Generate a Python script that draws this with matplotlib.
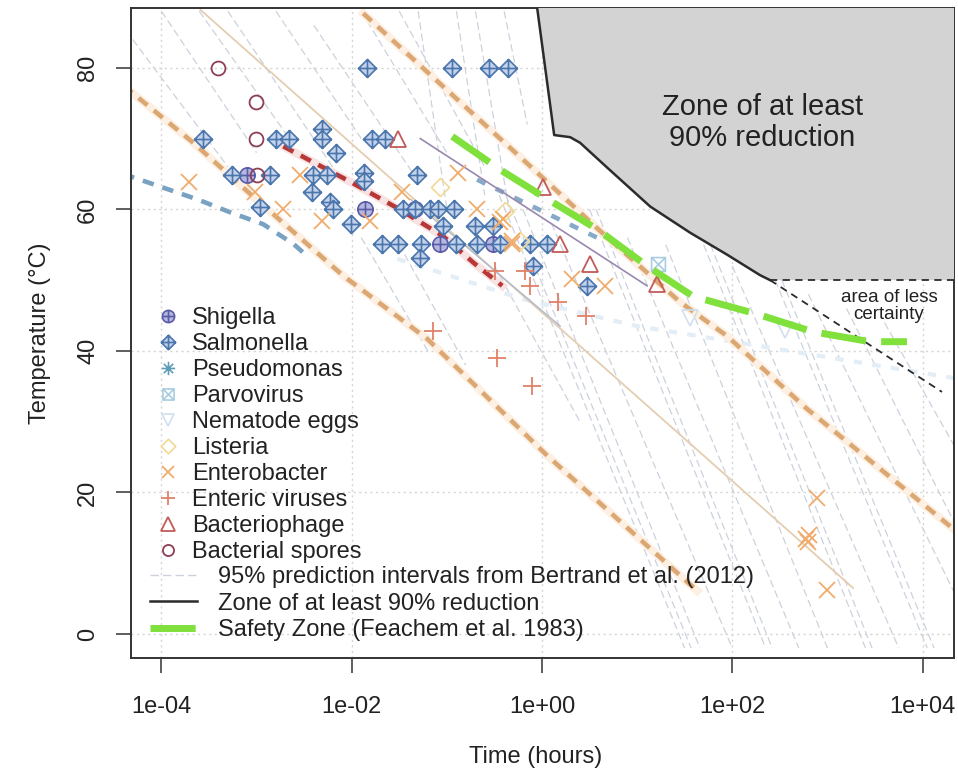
import matplotlib
matplotlib.use("Agg")
import matplotlib.pyplot as plt
from matplotlib.path import Path

plt.rcParams['font.family'] = ['Liberation Sans', 'DejaVu Sans']

# ---- observed inactivation points: time (hours) and temperature (C)
salmonella_t = [0.0146, 0.114, 0.279, 0.442,
                0.0049,
                2.76e-4, 1.61e-3, 2.21e-3, 4.91e-3, 0.0164, 0.0225,
                6.89e-3, 0.0135,
                5.57e-4, 1.40e-3, 3.95e-3, 5.55e-3, 0.0489,
                0.0135, 3.86e-3, 5.96e-3, 1.10e-3,
                6.41e-3, 0.0348, 0.0466, 0.067, 0.0813, 0.12,
                9.8e-3, 0.0916, 0.199, 0.307,
                0.0209, 0.0309, 0.0538, 0.126, 0.209, 0.364, 0.751, 1.135,
                0.0526, 0.81, 2.99]
salmonella_T = [80, 80, 80, 80,
                71.3,
                70, 70, 70, 70, 70, 70,
                68, 65.2,
                64.9, 64.9, 64.9, 64.9, 64.9,
                64, 62.4, 61.1, 60.3,
                60, 60, 60, 60, 60, 60,
                58, 57.6, 57.6, 57.6,
                55.1, 55.1, 55.1, 55.1, 55.1, 55.1, 55.1, 55.1,
                53.1, 52, 49.2]

shigella_t = [8.0e-4, 0.0139, 0.0466, 0.0853, 0.307]
shigella_T = [64.9, 60, 60, 55.1, 55.1]

pseudomonas_t = []
pseudomonas_T = []

parvovirus_t = [16.6]
parvovirus_T = [52.3]

nematode_t = [36.1, 359]
nematode_T = [44.7, 43.0]

listeria_t = [0.0853, 0.411, 0.59]
listeria_T = [63.1, 59.7, 55.5]

enterobacter_t = [1.97e-4, 9.7e-4, 1.91e-3, 4.91e-3, 2.88e-3, 0.0157, 0.034, 0.132,
                  0.209, 0.364, 0.391, 0.487, 0.48, 2.08, 4.61,
                  778, 600, 640, 620, 991]
enterobacter_T = [63.9, 62.4, 60, 58.3, 64.9, 58.3, 62.5, 65.2,
                  60, 58.2, 58.6, 55.1, 55.5, 50.1, 49.2,
                  19.2, 13.4, 14.0, 13.0, 6.2]

viruses_t = [0.0719, 0.338, 0.789, 0.322, 0.667, 0.751, 1.48, 2.91]
viruses_T = [42.8, 39.0, 35.1, 51.3, 51.3, 49.2, 46.9, 44.9]

phage_t = [0.0309, 1.03, 1.55, 3.2, 16.2]
phage_T = [70, 63.2, 55.1, 52.3, 49.4]

spores_t = [3.97e-4, 9.96e-4, 9.96e-4, 1.02e-3]
spores_T = [80, 75.1, 70, 64.9]

# ---- 95% prediction interval segments (t1, T1, t2, T2)
pi_segments = [
    (5.0e-5, 84, 5.0e-4, 66), (1e-4, 88, 1e-3, 68), (2.5e-4, 88, 2.5e-3, 69),
    (5e-4, 88, 6.3e-3, 66), (1.6e-3, 88, 0.0126, 70), (4e-3, 86, 0.05, 64),
    (0.0126, 88, 0.1, 68), (0.0316, 88, 0.25, 66),
    (0.05, 88, 0.1, 60), (0.126, 88, 0.25, 62), (0.2, 88, 0.45, 60), (0.4, 88, 0.7, 72),
    (0.0126, 56, 0.063, 40), (0.0316, 55, 0.158, 38), (0.316, 52, 2.5, 30),
    (0.355, 62, 31.6, -2), (0.417, 62, 37, -2), (0.63, 60, 45.7, -2), (1.26, 58, 100, -2),
    (3.16, 60, 224, -2), (3.7, 60, 263, -2), (7.9, 56, 500, -2), (20, 55, 1000, -2),
    (50, 55, 2512, -2), (59, 55, 2950, -2), (100, 52, 5620, -2), (282, 50, 11200, -2),
    (331, 50, 13200, -2), (631, 48, 25100, 4), (1585, 46, 25100, 14), (3980, 44, 25100, 25),
]

# ---- fitted / reference curves
orange_a_t = [0.0132, 0.752, 3.89, 28.3, 88.1, 611, 20840]
orange_a_T = [87.7, 66.1, 57.2, 46.9, 42.1, 31.8, 14.9]
orange_b_t = [3.98e-5, 2.17e-4, 7.62e-4, 8.17e-3, 0.0622, 1.135, 42.7]
orange_b_T = [77.5, 69.4, 62.8, 50.6, 41.7, 25.2, 6.1]
steel_t = [3.98e-5, 2.40e-4, 5.25e-4, 1.175e-3, 2.45e-3, 3.09e-3]
steel_T = [65.0, 61.4, 59.6, 57.9, 55.1, 53.9]
blue_mid_t = [0.208, 3.80]
blue_mid_T = [64.2, 56.0]
lightblue_t = [0.0302, 0.635, 10, 398, 25119]
lightblue_T = [53.0, 47.3, 43.5, 40, 36]
red_t = [1.91e-3, 9.66e-3, 0.0309, 0.0916, 0.189, 0.382]
red_T = [68.9, 63.9, 60.1, 56.2, 52.5, 49.2]
tan_t = [2.57e-4, 1858]
tan_T = [88.2, 6.5]
purple_t = [0.0526, 12.7]
purple_T = [70.0, 49.2]
greyblue_t = [0.0417, 1.55]
greyblue_T = [61.4, 43.5]

# zone of at least 90% reduction (boundary)
zone_t = [0.859, 1.343, 1.977, 2.518, 4.842, 13.71, 36.06, 88.1, 195.9, 249.5]
zone_T = [90, 70.5, 70.2, 69.4, 65.9, 60.4, 56.7, 53.6, 50.7, 50.0]
zone_edge_t = 30000
less_t = [249.5, 16000]
less_T = [50.0, 34.2]

# Feachem safety zone
safety_t = [0.114, 0.364, 1.03, 3.80, 12.7, 38.7, 182, 706, 2800, 6855]
safety_T = [70.3, 65.6, 61.8, 57.2, 52.0, 47.7, 45.2, 42.7, 41.3, 41.3]

xticks = [1e-4, 1e-2, 1, 1e2, 1e4]
xtick_labels = ["1e-04", "1e-02", "1e+00", "1e+02", "1e+04"]
yticks = [0, 20, 40, 60, 80]

# ---- marker shapes (R pch look-alikes)
M, L, C = Path.MOVETO, Path.LINETO, Path.CLOSEPOLY
diamond = Path([(0, 1), (1, 0), (0, -1), (-1, 0), (0, 1)], [M, L, L, L, C])
plus = Path([(-1, 0), (1, 0), (0, -1), (0, 1)], [M, L, M, L])
cross = Path([(-0.7, -0.7), (0.7, 0.7), (-0.7, 0.7), (0.7, -0.7)], [M, L, M, L])
cross_full = Path([(-1, -1), (1, 1), (-1, 1), (1, -1)], [M, L, M, L])
square = Path([(-1, -1), (1, -1), (1, 1), (-1, 1), (-1, -1)], [M, L, L, L, C])
diamond_plus = Path.make_compound_path(diamond, plus)
circle_plus = Path.make_compound_path(Path.unit_circle(), plus)
square_x = Path.make_compound_path(square, cross_full)
asterisk = Path.make_compound_path(plus, cross)

fig = plt.figure(figsize=(9.58, 7.78), dpi=100)
ax = fig.add_axes([0.1367, 0.1542, 0.8591, 0.8355])
ax.set_xscale('log')
ax.set_xlim(10 ** -4.32, 10 ** 4.33)
ax.set_ylim(-3.4, 88.45)

ax.set_axisbelow(True)
ax.grid(True, color='#d4d4d4', linestyle=(0, (1.5, 2.5)), linewidth=1)

# prediction intervals
for t1, T1, t2, T2 in pi_segments:
    ax.plot([t1, t2], [T1, T2], color='#ccd2dd', lw=0.9, dashes=(6, 3), zorder=1)

# fitted lines
for tt, TT in [(orange_a_t, orange_a_T), (orange_b_t, orange_b_T)]:
    ax.plot(tt, TT, color='#fdf0e3', lw=6, zorder=1.5)
    ax.plot(tt, TT, color='#dba772', lw=3.3, dashes=(2.5, 1.8), zorder=1.6)
ax.plot(red_t, red_T, color='#f8e2e2', lw=6, zorder=1.5)
ax.plot(red_t, red_T, color='#b83838', lw=3.3, dashes=(2.5, 1.8), zorder=1.6)
ax.plot(steel_t, steel_T, color='#79a2c2', lw=3.3, dashes=(2.5, 2.0), zorder=1.6)
ax.plot(blue_mid_t, blue_mid_T, color='#86aac8', lw=3.3, dashes=(2.0, 2.5), zorder=1.6)
ax.plot(lightblue_t, lightblue_T, color='#e2edf6', lw=3.0, dashes=(2.0, 2.5), zorder=1.4)
ax.plot(tan_t, tan_T, color='#e4cdb0', lw=1.3, zorder=1.7)
ax.plot(purple_t, purple_T, color='#9a88b0', lw=1.2, zorder=1.7)
ax.plot(greyblue_t, greyblue_T, color='#b2bccd', lw=1.1, zorder=1.7)

# points
mk = dict(ls='none', zorder=3)
h_shig, = ax.plot(shigella_t, shigella_T, marker=circle_plus, ms=11, mec='#5b5ba8', mfc='#b4b8df', mew=1.2, label='Shigella', **mk)
h_salm, = ax.plot(salmonella_t, salmonella_T, marker=diamond_plus, ms=13, mec='#4a76ad', mfc='#c4d3e9', mew=1.2, label='Salmonella', **mk)
h_pseu, = ax.plot(pseudomonas_t, pseudomonas_T, marker=asterisk, ms=12, mec='#5f9db8', mfc='none', mew=1.2, label='Pseudomonas', **mk)
h_parv, = ax.plot(parvovirus_t, parvovirus_T, marker=square_x, ms=10, mec='#a9cde2', mfc='none', mew=1.2, label='Parvovirus', **mk)
h_nema, = ax.plot(nematode_t, nematode_T, marker='v', ms=11, mec='#cfe0f0', mfc='none', mew=1.2, label='Nematode eggs', **mk)
h_list, = ax.plot(listeria_t, listeria_T, marker=diamond, ms=13, mec='#f2d996', mfc='none', mew=1.2, label='Listeria', **mk)
h_ente, = ax.plot(enterobacter_t, enterobacter_T, marker='x', ms=11, mec='#efac6c', mew=1.3, label='Enterobacter', **mk)
h_viru, = ax.plot(viruses_t, viruses_T, marker='+', ms=13, mec='#e08068', mew=1.3, label='Enteric viruses', **mk)
h_phag, = ax.plot(phage_t, phage_T, marker='^', ms=12, mec='#c25a5a', mfc='none', mew=1.3, label='Bacteriophage', **mk)
h_spor, = ax.plot(spores_t, spores_T, marker='o', ms=10, mec='#8e3f55', mfc='none', mew=1.3, label='Bacterial spores', **mk)

# zone of at least 90% reduction
ax.fill(zone_t + [zone_edge_t, zone_edge_t], zone_T + [zone_T[-1], zone_T[0]],
        color='#d3d3d3', lw=0, zorder=4)
h_zone, = ax.plot(zone_t, zone_T, color='#2b2b2b', lw=1.8, zorder=5)
ax.plot([zone_t[-1], zone_edge_t], [zone_T[-1], zone_T[-1]], color='#2b2b2b', lw=1.3,
        dashes=(4, 3), zorder=5)
ax.plot(less_t, less_T, color='#2b2b2b', lw=1.3, dashes=(4, 3), zorder=5)

h_safe, = ax.plot(safety_t, safety_T, color='#80e03c', lw=5, dashes=(6.5, 2.2), zorder=6)
h_pi, = ax.plot([], [], color='#ccd2dd', lw=1.0, dashes=(6, 3))

ax.text(205.6, 72.3, "Zone of at least\n90% reduction", ha='center', va='center',
        fontsize=21, color='#222222', linespacing=1.15, zorder=7)
ax.text(4436, 46.4, "area of less\ncertainty", ha='center', va='center',
        fontsize=13.5, color='#222222', linespacing=1.0, zorder=7)

# axes styling
ax.set_xticks(xticks)
ax.set_xticklabels(xtick_labels)
ax.xaxis.set_minor_locator(matplotlib.ticker.NullLocator())
ax.set_yticks(yticks)
ax.set_yticklabels([str(v) for v in yticks], rotation=90, va='center')
ax.tick_params(axis='both', length=11, width=1.1, color='#333333', labelsize=17,
               labelcolor='#222222')
ax.tick_params(axis='x', pad=16.5)
ax.tick_params(axis='y', pad=12)
for sp in ax.spines.values():
    sp.set_color('#333333')
    sp.set_linewidth(1.4)

ax.set_xlabel("Time (hours)", fontsize=17, color='#222222')
ax.xaxis.set_label_coords(0.4921, -0.1523)
ax.xaxis.label.set_va('center')
ax.set_ylabel("Temperature (°C)", fontsize=17, color='#222222')
ax.yaxis.set_label_coords(-0.1106, 0.5)
ax.yaxis.label.set_va('center')
ax.yaxis.label.set_ha('center')

leg1 = ax.legend(handles=[h_shig, h_salm, h_pseu, h_parv, h_nema, h_list, h_ente,
                          h_viru, h_phag, h_spor],
                 loc='upper left', bbox_to_anchor=(0.0304, 0.540), frameon=False,
                 fontsize=17, handlelength=1.0, handletextpad=0.53, borderpad=0,
                 borderaxespad=0, labelspacing=0.17, markerscale=0.8, labelcolor='#222222')
ax.add_artist(leg1)
leg2 = ax.legend(handles=[h_pi, h_zone, h_safe],
                 labels=["95% prediction intervals from Bertrand et al. (2012)",
                         "Zone of at least 90% reduction",
                         "Safety Zone (Feachem et al. 1983)"],
                 loc='upper left', bbox_to_anchor=(0.0231, 0.1415), frameon=False,
                 fontsize=17, handlelength=2.0, handletextpad=0.89, borderpad=0,
                 borderaxespad=0, labelspacing=0.19, labelcolor='#222222')
leg1.set_zorder(8)
leg2.set_zorder(8)

fig.savefig("out.png", dpi=100)
